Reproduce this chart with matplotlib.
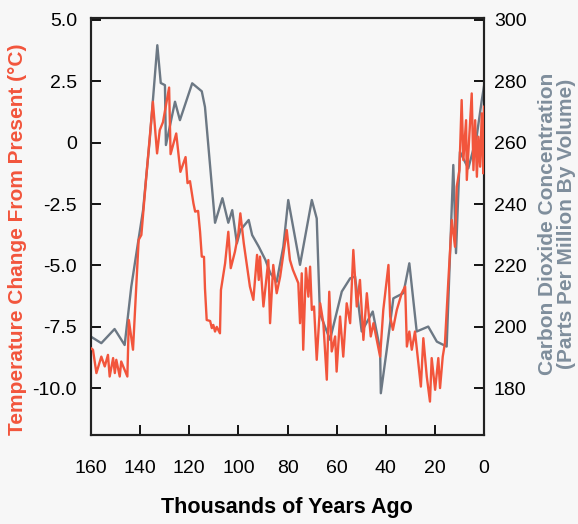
import matplotlib
matplotlib.use("Agg")
import matplotlib.pyplot as plt

plt.rcParams['font.family'] = ['Liberation Sans', 'DejaVu Sans']

# CO2 record (thousand years ago, ppmv)
co2_age = [160.0, 155.8, 150.4, 146.3, 143.6, 140.9, 138.8, 136.1, 133.0, 131.6,
           129.9, 129.5, 125.8, 123.8, 118.8, 114.9, 113.6, 109.5, 106.5, 104.1,
           102.5, 100.6, 99.2, 95.8, 94.4, 91.7, 89.0, 87.0, 84.4, 81.7,
           79.7, 74.9, 70.1, 68.1, 66.8, 62.7, 57.9, 54.5, 52.5, 49.8,
           45.3, 42.3, 42.0, 39.6, 36.9, 32.8, 30.4, 27.4, 22.7, 19.2,
           15.2, 12.5, 11.4, 9.8, 6.4, 3.0, 0.9, 0.0]
co2_ppm = [196.8, 194.7, 199.3, 194.1, 213.1, 227.2, 238.0, 260.8, 291.7, 279.4,
           278.7, 259.2, 273.3, 267.3, 279.3, 276.7, 271.6, 233.9, 241.9, 233.9,
           238.0, 227.2, 231.5, 234.8, 229.9, 226.1, 221.8, 217.5, 214.7, 226.1,
           241.3, 220.2, 241.3, 235.3, 204.4, 195.8, 211.5, 215.8, 216.4, 198.5,
           205.0, 192.5, 178.4, 192.5, 209.3, 211.0, 220.7, 198.5, 200.1, 195.2,
           193.6, 252.7, 224.0, 257.0, 251.6, 261.9, 273.8, 278.4]

# Temperature change from present (thousand years ago, deg C)
temp_age = [160.0, 159.2, 157.8, 155.8, 154.4, 153.1, 152.4, 151.0, 150.3, 149.7,
            148.3, 147.7, 146.3, 145.2, 144.6, 142.9, 141.6, 140.6, 139.5, 137.5,
            134.8, 133.1, 132.0, 130.7, 128.2, 127.6, 125.3, 123.6, 121.5, 120.7,
            119.7, 118.3, 117.6, 116.4, 115.6, 114.9, 114.0, 113.6, 112.9, 111.5,
            110.8, 110.2, 109.5, 108.8, 107.5, 107.1, 105.4, 104.1, 103.1, 101.4,
            100.0, 99.2, 97.8, 95.3, 93.9, 92.4, 91.7, 91.2, 89.8, 87.8,
            87.1, 85.8, 84.4, 83.0, 80.3, 79.0, 77.8, 75.6, 74.9, 74.2,
            73.6, 72.5, 71.5, 70.8, 70.1, 69.2, 68.1, 66.7, 65.4, 64.0,
            63.0, 62.0, 60.6, 60.0, 58.6, 57.3, 55.9, 54.5, 53.2, 51.8,
            50.5, 49.1, 47.7, 46.1, 45.0, 42.3, 41.0, 38.9, 38.2, 37.1,
            35.5, 33.5, 32.1, 31.4, 30.4, 29.4, 28.1, 26.7, 25.7, 24.7,
            23.3, 22.0, 21.3, 19.9, 18.6, 17.9, 16.8, 15.9, 14.5, 13.1,
            11.8, 11.1, 10.0, 9.1, 8.4, 7.3, 7.0, 6.0, 5.0, 4.3,
            3.6, 2.9, 2.3, 1.6, 0.9, 0.3, 0.0]
temp_dc = [-8.37, -8.43, -9.38, -8.71, -9.11, -8.64, -9.52, -8.77, -9.38, -8.84,
           -9.52, -8.91, -9.25, -9.52, -7.22, -8.43, -5.86, -3.96, -3.76, -1.39,
           1.66, -0.44, 0.51, 0.83, 2.24, -0.47, 0.37, -1.19, -0.59, -1.65,
           -1.57, -2.47, -2.81, -2.78, -3.63, -4.64, -4.65, -5.93, -7.22, -7.26,
           -7.55, -7.42, -7.69, -7.50, -7.76, -6.00, -4.91, -3.63, -5.11, -4.44,
           -3.69, -2.88, -4.10, -5.86, -6.40, -4.57, -5.59, -4.64, -6.67, -4.78,
           -7.35, -4.98, -6.13, -5.46, -3.56, -4.78, -5.18, -5.72, -7.35, -5.32,
           -8.43, -5.11, -6.27, -5.05, -6.81, -6.67, -8.84, -6.54, -7.35, -9.65,
           -6.07, -8.50, -7.89, -9.32, -7.08, -8.71, -6.54, -7.35, -4.37, -6.67,
           -5.59, -8.03, -6.13, -7.89, -7.35, -8.71, -6.81, -4.98, -7.08, -7.62,
           -6.81, -6.13, -5.86, -8.30, -7.69, -8.43, -7.69, -8.98, -9.93, -7.96,
           -9.52, -10.54, -8.77, -10.06, -8.77, -9.99, -8.71, -8.16, -5.59, -3.15,
           -4.24, -1.80, -1.12, 1.73, -0.71, 0.91, -1.52, 0.24, 2.00, -1.12,
           0.91, -1.39, 0.24, -0.98, 1.19, -1.25, 1.46]

x_ticks = [160, 140, 120, 100, 80, 60, 40, 20, 0]
t_ticks = [5.0, 2.5, 0, -2.5, -5.0, -7.5, -10.0]
t_ticklabels = ['5.0', '2.5', '0', '-2.5', '-5.0', '-7.5', '-10.0']
c_ticks = [300, 280, 260, 240, 220, 200, 180]

RED = '#f2553c'
GRAY = '#6c7884'
GRAYLABEL = '#7f8e9c'

fig = plt.figure(figsize=(5.78, 5.24), dpi=100)
fig.patch.set_facecolor('#f7f7f7')
ax = fig.add_axes([91/578, 1-435/524, (484-91)/578, (435-18)/524])
ax2 = ax.twinx()

tlo, thi = -11.9, 5.07
ax.set_ylim(tlo, thi)
ax2.set_ylim(260 + 8*tlo, 260 + 8*thi)
ax.set_xlim(160, 0)

ax2.plot(co2_age, co2_ppm, color=GRAY, lw=1.7, zorder=2)
ax.plot(temp_age, temp_dc, color=RED, lw=1.7, zorder=3)
ax.set_zorder(ax2.get_zorder() + 1)
ax.patch.set_visible(False)
ax2.patch.set_visible(True)
ax2.patch.set_facecolor('#f7f7f7')

ax.set_xticks(x_ticks)
ax.set_xticklabels([str(v) for v in x_ticks])
ax.set_yticks(t_ticks)
ax.set_yticklabels(t_ticklabels)
ax2.set_yticks(c_ticks)

for a in (ax, ax2):
    a.tick_params(direction='in', length=7, width=1.3, labelsize=14, colors='black')
    for s in a.spines.values():
        s.set_linewidth(1.5)
        s.set_color('#222222')
ax.tick_params(axis='x', pad=18)
ax.tick_params(axis='y', pad=10, right=False)
ax2.tick_params(axis='y', pad=7)

fig.text(287/578, 1-507/524, 'Thousands of Years Ago', ha='center', va='center',
         fontsize=15.5, fontweight='bold', color='black')
fig.text(18/578, 1-239/524, 'Temperature Change From Present (°C)', rotation=90,
         ha='center', va='center', fontsize=15, fontweight='bold', color=RED)
fig.text(557/578, 1-224/524, 'Carbon Dioxide Concentration\n(Parts Per Million By Volume)',
         rotation=90, ha='center', va='center', fontsize=15, fontweight='bold',
         color=GRAYLABEL, linespacing=0.95)

fig.savefig('out.png', dpi=100, facecolor=fig.get_facecolor())
